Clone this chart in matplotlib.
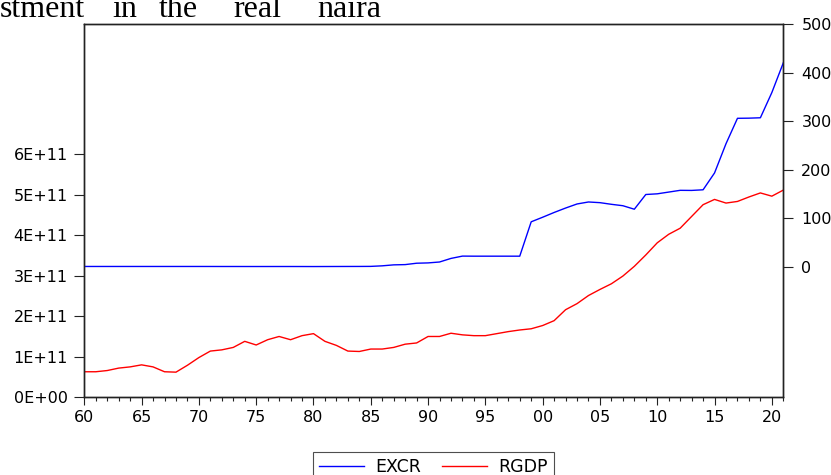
import matplotlib
matplotlib.use("Agg")
import matplotlib.pyplot as plt
from matplotlib.ticker import FixedLocator, FuncFormatter, MultipleLocator

years = list(range(1960, 2022))

excr = [0.714] * 11 + [0.695, 0.658, 0.658, 0.630, 0.616, 0.627, 0.645, 0.635, 0.604, 0.547,
        0.610, 0.673, 0.724, 0.767, 0.894, 2.02, 4.02, 4.54, 7.39, 8.04,
        9.91, 17.3, 22.05, 21.9, 21.9, 21.9, 21.9, 21.9, 92.7, 102.1,
        111.9, 121.0, 129.4, 133.5, 132.1, 128.7, 125.8, 118.6, 148.9, 150.3,
        153.9, 157.5, 157.3, 158.6, 193.3, 253.5, 305.8, 306.1, 306.9, 358.8, 420.0]

rgdp_e11 = [0.63, 0.63, 0.66, 0.72, 0.75, 0.80, 0.75, 0.63, 0.62, 0.79,
            0.98, 1.14, 1.17, 1.23, 1.38, 1.29, 1.42, 1.50, 1.42, 1.52,
            1.57, 1.38, 1.28, 1.14, 1.13, 1.19, 1.19, 1.23, 1.31, 1.34,
            1.50, 1.50, 1.58, 1.54, 1.52, 1.52, 1.57, 1.62, 1.66, 1.69,
            1.77, 1.89, 2.16, 2.31, 2.51, 2.66, 2.80, 2.99, 3.23, 3.51,
            3.81, 4.02, 4.17, 4.46, 4.75, 4.88, 4.79, 4.83, 4.94, 5.04,
            4.96, 5.11]
rgdp = [v * 1e11 for v in rgdp_e11]

left_ticks = [0, 1e11, 2e11, 3e11, 4e11, 5e11, 6e11]
right_ticks = [0, 100, 200, 300, 400, 500]
x_major = list(range(1960, 2025, 5))

FONT = "DejaVu Sans"
FS = 11.5

fig = plt.figure(figsize=(8.31, 4.75), dpi=100)
W, H = 831, 475
L, R, T, B = 84.3, 783.3, 24.0, 397.3
ax = fig.add_axes([L / W, 1 - B / H, (R - L) / W, (B - T) / H])
ax2 = ax.twinx()

l2, = ax2.plot(years, excr, color=(0, 0, 1), lw=1.0, label="EXCR")
l1, = ax.plot(years, rgdp, color=(1, 0, 0), lw=1.0, label="RGDP")

ax.set_xlim(1960, 2021)
ax.set_ylim(0, 9.206e11)
ax2.set_ylim(-268.7, 500.0)

ax.yaxis.set_major_locator(FixedLocator(left_ticks))
ax.yaxis.set_major_formatter(FuncFormatter(
    lambda v, p: "0E+00" if v == 0 else f"{int(round(v / 1e11))}E+11"))
ax2.yaxis.set_major_locator(FixedLocator(right_ticks))
ax.xaxis.set_major_locator(FixedLocator(x_major))
ax.xaxis.set_minor_locator(MultipleLocator(1))
ax.xaxis.set_major_formatter(FuncFormatter(lambda v, p: f"{int(v) % 100:02d}"))

for a in (ax, ax2):
    for s in a.spines.values():
        s.set_color("#222222")
        s.set_linewidth(1.0)
ax.tick_params(axis="y", direction="out", length=7, width=0.8, pad=5,
               colors="#222222", labelsize=FS, labelcolor="black")
ax2.tick_params(axis="y", direction="out", length=7, width=0.8, pad=6,
                colors="#222222", labelsize=FS, labelcolor="black")
ax.tick_params(axis="x", which="major", direction="out", length=6, width=0.8,
               pad=3, colors="#222222", labelsize=FS, labelcolor="black")
ax.tick_params(axis="x", which="minor", direction="out", length=3, width=0.8,
               colors="#222222")
for lab in ax.get_xticklabels() + ax.get_yticklabels() + ax2.get_yticklabels():
    lab.set_fontfamily(FONT)

leg = fig.legend(handles=[l2, l1], loc="upper center",
                 bbox_to_anchor=(433.5 / W, 1 - 451.7 / H), ncol=2,
                 frameon=True, fancybox=False, edgecolor="#222222",
                 prop={"family": FONT, "size": 12.5}, handlelength=2.6,
                 handletextpad=0.65, columnspacing=1.2, borderpad=0.35,
                 borderaxespad=0)
leg.get_frame().set_linewidth(0.8)

words = [("stment", 0), ("in", 112), ("the", 159), ("real", 233), ("naira", 317)]
for w, xp in words:
    fig.text(xp / W, 1 - 16.7 / H, w, family="Liberation Serif", fontsize=23,
             ha="left", va="baseline", color="black")

fig.savefig("out.png", dpi=100)
